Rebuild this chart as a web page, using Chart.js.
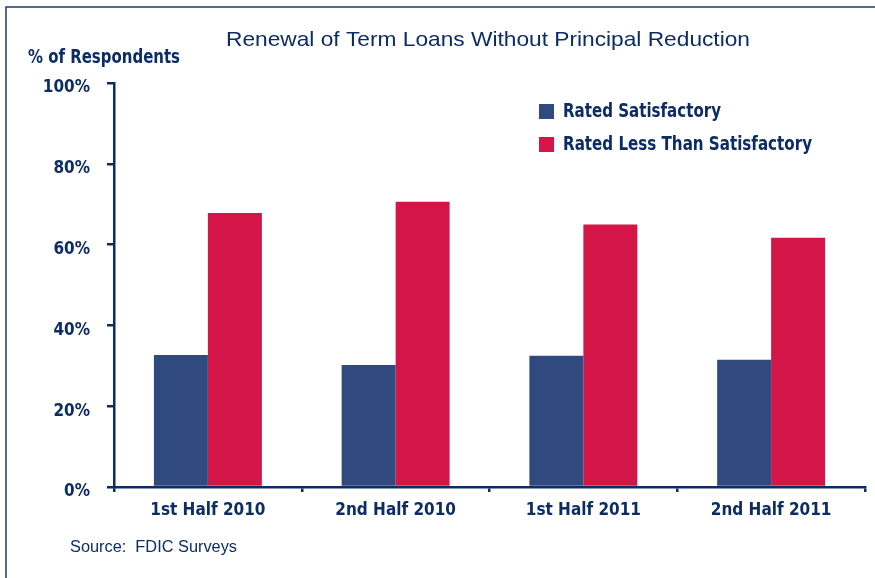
<!DOCTYPE html>
<html>
<head>
<meta charset="utf-8">
<script src="https://cdn.jsdelivr.net/npm/chart.js@4"></script>
<style>
  html, body { margin: 0; padding: 0; background: #fff; }
  #wrap { position: relative; width: 875px; height: 578px; }
</style>
</head>
<body>
<div id="wrap"><canvas id="loanChart" width="875" height="578"></canvas></div>
<script>
// --- Data ---
const periods = ['1st Half 2010', '2nd Half 2010', '1st Half 2011', '2nd Half 2011'];
const ratedSatisfactory = [32.7, 30.2, 32.5, 31.5];
const ratedLessThanSatisfactory = [67.8, 70.6, 65.0, 61.7];
const seriesNames = ['Rated Satisfactory', 'Rated Less Than Satisfactory'];
const yTicks = [0, 20, 40, 60, 80, 100];

const NAVY = '#0c2c66';
const BAR_BLUE = '#304a80';
const BAR_RED = '#d31547';
const CONDENSED = '"Liberation Sans Narrow", "DejaVu Sans Condensed", "Arial Narrow", sans-serif';

// draw text squeezed/stretched horizontally to a target width
function fitText(ctx, text, x, y, width) {
    const w = ctx.measureText(text).width;
    ctx.save();
    ctx.translate(x, y);
    ctx.scale(width / w, 1);
    ctx.fillText(text, 0, 0);
    ctx.restore();
}

// title, axis heading, legend, source note and frame
const decorations = {
    id: 'decorations',
    afterDraw(chart) {
        const ctx = chart.ctx;
        ctx.save();
        // frame
        ctx.strokeStyle = '#1d3b70';
        ctx.lineWidth = 1.5;
        ctx.beginPath();
        ctx.moveTo(875, 7);
        ctx.lineTo(6, 7);
        ctx.lineTo(6, 578);
        ctx.stroke();

        ctx.fillStyle = NAVY;
        ctx.textBaseline = 'middle';
        ctx.textAlign = 'left';
        ctx.font = '21px "Liberation Sans", Arial, sans-serif';
        fitText(ctx, 'Renewal of Term Loans Without Principal Reduction', 226, 40, 524);

        ctx.font = 'bold 19px ' + CONDENSED;
        fitText(ctx, '% of Respondents', 28, 58, 152);

        // legend
        const colors = [BAR_BLUE, BAR_RED];
        const widths = [158, 249];
        seriesNames.forEach((name, i) => {
            const top = 104 + i * 33;
            ctx.fillStyle = colors[i];
            ctx.fillRect(539, top, 15, 15);
            ctx.fillStyle = NAVY;
            ctx.font = 'bold 19px ' + CONDENSED;
            fitText(ctx, name, 563, top + 8, widths[i]);
        });

        ctx.font = '16px "Liberation Sans", Arial, sans-serif';
        fitText(ctx, 'Source:  FDIC Surveys', 70, 548, 167);
        ctx.restore();
    }
};

function initChart() {
    const ctx = document.getElementById('loanChart').getContext('2d');
    new Chart(ctx, {
        type: 'bar',
        data: {
            labels: periods,
            datasets: [
                { label: seriesNames[0], data: ratedSatisfactory, backgroundColor: BAR_BLUE },
                { label: seriesNames[1], data: ratedLessThanSatisfactory, backgroundColor: BAR_RED }
            ]
        },
        options: {
            responsive: false,
            animation: false,
            devicePixelRatio: 1,
            layout: { padding: { top: 83, right: 10, bottom: 0, left: 0 } },
            datasets: { bar: { categoryPercentage: 0.575, barPercentage: 1.0 } },
            plugins: { legend: { display: false }, title: { display: false }, tooltip: { enabled: false } },
            scales: {
                x: {
                    grid: { drawOnChartArea: false, tickLength: 5, color: NAVY, lineWidth: 2.5, offset: true },
                    border: { color: NAVY, width: 2.5 },
                    ticks: { color: NAVY, font: { family: CONDENSED, size: 17, weight: 'bold' }, padding: 8, maxRotation: 0 },
                    afterFit(scale) { scale.height = 91; }
                },
                y: {
                    min: 0,
                    max: 100,
                    afterBuildTicks(scale) { scale.ticks = yTicks.map(v => ({ value: v })); },
                    grid: { drawOnChartArea: false, tickLength: 7, color: NAVY, lineWidth: 2.5 },
                    border: { color: NAVY, width: 2.5 },
                    ticks: {
                        color: NAVY,
                        font: { family: CONDENSED, size: 17, weight: 'bold' },
                        padding: 17,
                        labelOffset: 5,
                        callback: v => v + '%'
                    },
                    afterFit(scale) { scale.width = 114; }
                }
            }
        },
        plugins: [decorations]
    });
}

document.addEventListener('DOMContentLoaded', () => {
    try {
        initChart();
    } catch (e) {
        console.error('Chart init failed:', e);
    }
});
</script>
</body>
</html>
